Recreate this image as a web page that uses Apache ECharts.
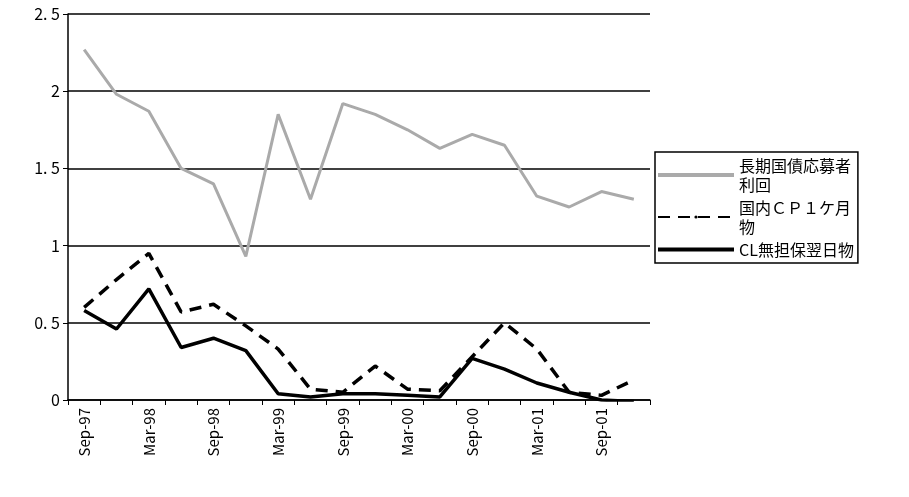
<!DOCTYPE html>
<html>
<head>
<meta charset="utf-8">
<script src="https://cdn.jsdelivr.net/npm/echarts/dist/echarts.min.js"></script>
<style>
  body { margin: 0; background: #fff; }
  #main { width: 909px; height: 497px; }
</style>
</head>
<body>
<div id="main"></div>
<script>
var categories = ['Sep-97','Dec-97','Mar-98','Jun-98','Sep-98','Dec-98','Mar-99','Jun-99','Sep-99',
  'Dec-99','Mar-00','Jun-00','Sep-00','Dec-00','Mar-01','Jun-01','Sep-01','Dec-01'];
var jgbYield = [2.27, 1.98, 1.87, 1.5, 1.4, 0.93, 1.85, 1.3, 1.92, 1.85, 1.75, 1.63, 1.72, 1.65, 1.32, 1.25, 1.35, 1.3];
var cp1m = [0.6, 0.78, 0.95, 0.57, 0.62, 0.48, 0.33, 0.07, 0.05, 0.22, 0.07, 0.06, 0.28, 0.5, 0.33, 0.05, 0.03, 0.13];
var callRate = [0.58, 0.46, 0.72, 0.34, 0.4, 0.32, 0.04, 0.02, 0.04, 0.04, 0.03, 0.02, 0.27, 0.2, 0.11, 0.05, 0.0, -0.01];
var yTicks = {0: '0', 0.5: '0. 5', 1: '1', 1.5: '1. 5', 2: '2', 2.5: '2. 5'};

var font = '"Noto Sans CJK JP", sans-serif';
var chart = echarts.init(document.getElementById('main'));
chart.setOption({
  animation: false,
  grid: { left: 68, right: 259, top: 14, bottom: 97 },
  xAxis: {
    type: 'category', data: categories, boundaryGap: true,
    axisLine: { lineStyle: { color: '#000', width: 1.5 } },
    axisTick: { show: true, interval: 0, lineStyle: { color: '#000' } },
    axisLabel: { interval: 1, rotate: 90, color: '#000', fontSize: 15, fontFamily: font }
  },
  yAxis: {
    type: 'value', min: 0, max: 2.5, interval: 0.5,
    axisLine: { show: true, lineStyle: { color: '#000', width: 1.5 } },
    axisTick: { show: true, lineStyle: { color: '#000' } },
    splitLine: { lineStyle: { color: '#000', width: 1.5 } },
    axisLabel: { color: '#000', fontSize: 16, fontFamily: font, formatter: function (v) { return yTicks[v]; } }
  },
  legend: {
    orient: 'vertical', left: 655, top: 152, itemGap: 4,
    itemWidth: 76, itemHeight: 4,
    borderColor: '#000', borderWidth: 1.5, padding: [4, 4, 4, 2],
    textStyle: { color: '#000', fontSize: 16, fontFamily: font, lineHeight: 19 },
    formatter: function (n) {
      return { '長期国債応募者利回': '長期国債応募者\n利回', '国内CP1ケ月物': '国内ＣＰ１ケ月\n物' }[n] || n;
    },
    data: [
      { name: '長期国債応募者利回', icon: 'rect' },
      { name: '国内CP1ケ月物' },
      { name: 'CL無担保翌日物', icon: 'rect' }
    ]
  },
  series: [
    { name: '長期国債応募者利回', type: 'line', data: jgbYield, symbol: 'none',
      itemStyle: { color: '#aaa' }, lineStyle: { color: '#aaa', width: 3 } },
    { name: '国内CP1ケ月物', type: 'line', data: cp1m, symbol: 'none',
      itemStyle: { color: '#000' }, lineStyle: { color: '#000', width: 3.5, type: [12, 8] } },
    { name: 'CL無担保翌日物', type: 'line', data: callRate, symbol: 'none',
      itemStyle: { color: '#000' }, lineStyle: { color: '#000', width: 3.5 } }
  ]
});
</script>
</body>
</html>
